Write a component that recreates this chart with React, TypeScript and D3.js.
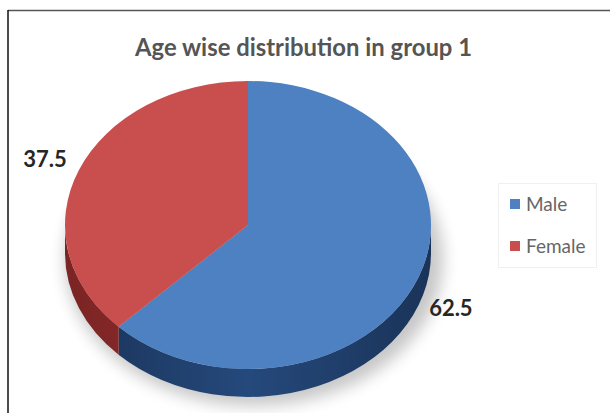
import React from "react";
import * as d3 from "d3";

const categories = ["Male", "Female"];
const values = [62.5, 37.5];
const valueLabels = ["62.5", "37.5"];
const topColors = ["#4e81c2", "#c94f4e"];
const sideDark = ["#1a3358", "#7a2424"];
const sideMid = ["#25497c", "#992f2f"];
const title = "Age wise distribution in group 1";

const W = 610;
const H = 413;
const cx = 248;
const cy = 225;
const rx = 183;
const ry = 144;
const depth = 28;

const pt = (a: number, dy = 0): [number, number] => [cx + rx * Math.sin(a), cy - ry * Math.cos(a) + dy];

export default function App() {
  const pie = d3.pie<number>().sort(null).value((d) => d)(values);
  const arc = d3.arc<d3.PieArcDatum<number>>().innerRadius(0).outerRadius(rx);

  const sides = pie.map((p, i) => {
    const a0 = Math.max(p.startAngle, Math.PI / 2);
    const a1 = Math.min(p.endAngle, (3 * Math.PI) / 2);
    if (a1 <= a0) return null;
    const [x0, y0] = pt(a0);
    const [x1, y1] = pt(a1);
    const large = a1 - a0 > Math.PI ? 1 : 0;
    const d = `M${x0},${y0} A${rx},${ry} 0 ${large} 1 ${x1},${y1} L${x1},${y1 + depth} A${rx},${ry} 0 ${large} 0 ${x0},${y0 + depth} Z`;
    return { d, i };
  });

  const labels = pie.map((p, i) => {
    const m = (p.startAngle + p.endAngle) / 2;
    const k = 1.2;
    const x = cx + rx * k * Math.sin(m);
    let y = cy - ry * k * Math.cos(m);
    if (Math.cos(m) < 0) y += depth * 0.6;
    return { x, y, text: valueLabels[i] };
  });

  const fontFam = "Lato, 'Open Sans', sans-serif";

  return (
    <svg width={W} height={H} style={{ position: "absolute", left: 0, top: 0, background: "#fff" }}>
      <defs>
        <filter id="shadowBlur" x="-30%" y="-30%" width="160%" height="160%">
          <feGaussianBlur stdDeviation="8" />
        </filter>
        {categories.map((c, i) => (
          <linearGradient key={c} id={`side${i}`} x1={cx - rx} x2={cx + rx} y1={0} y2={0} gradientUnits="userSpaceOnUse">
            <stop offset="0" stopColor={sideDark[i]} />
            <stop offset="0.5" stopColor={sideMid[i]} />
            <stop offset="1" stopColor={sideDark[i]} />
          </linearGradient>
        ))}
      </defs>
      <line x1={8} x2={W} y1={10.5} y2={10.5} stroke="#555" strokeWidth={1.6} />
      <line x1={8} x2={8} y1={10} y2={H} stroke="#111" strokeWidth={1.5} />

      <text x={303.5} y={56} textAnchor="middle" fontFamily={fontFam} fontWeight="bold" fontSize={24} fill="#555" textLength={337} lengthAdjust="spacingAndGlyphs">
        {title}
      </text>

      <ellipse cx={cx + 6} cy={cy + depth + 6} rx={rx + 6} ry={ry + 3} fill="#000" opacity={0.22} filter="url(#shadowBlur)" />

      {sides.map((s) => (s ? <path key={s.i} d={s.d} fill={`url(#side${s.i})`} /> : null))}

      <g transform={`translate(${cx},${cy}) scale(1,${ry / rx})`}>
        {pie.map((p, i) => (
          <path key={i} d={arc(p) as string} fill={topColors[i]} />
        ))}
      </g>

      {labels.map((l, i) => (
        <text key={i} x={l.x} y={l.y} dy="0.35em" textAnchor="middle" fontFamily={fontFam} fontWeight="bold" fontSize={22} fill="#262626">
          {l.text}
        </text>
      ))}

      <rect x={498.5} y={183.5} width={98} height={84} fill="#fff" stroke="#f0f0f0" />
      {categories.map((c, i) => (
        <g key={c} transform={`translate(510, ${204 + i * 42})`}>
          <rect x={0} y={-5} width={10} height={10} fill={topColors[i]} />
          <text x={16} y={0} dy="0.35em" fontFamily={fontFam} fontSize={19} fill="#666">
            {c}
          </text>
        </g>
      ))}
    </svg>
  );
}
